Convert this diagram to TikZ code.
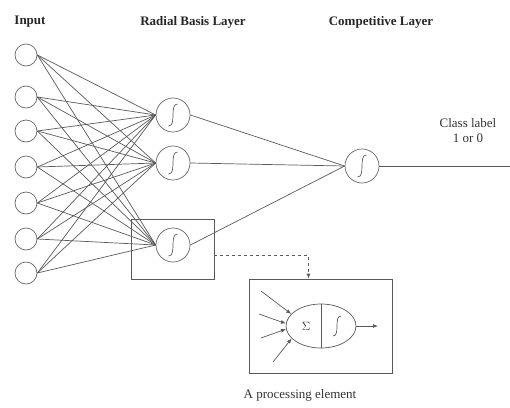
\documentclass[tikz,border=0pt]{standalone}
\usepackage{fontspec}
\setmainfont{Liberation Serif}
\usetikzlibrary{arrows.meta, shapes.geometric, calc}
\tikzset{
  inp/.style={circle, draw=black!60, minimum size=22pt, inner sep=0pt},
  unit/.style={circle, draw=black!60, minimum size=34pt, inner sep=0pt},
  link/.style={draw=black!65, line width=0.7pt},
  head/.style={font=\bfseries\fontsize{13}{15}\selectfont, text=black!85},
  txt/.style={font=\fontsize{13}{15}\selectfont, text=black!80},
}
% little S-shaped transfer curve inside a unit
\newcommand{\sigcurve}[2]{%
  \draw[black!65, line width=0.7pt] ($(#1)+(-#2*0.4,#2)$) .. controls ($(#1)+(#2*0.35,#2)$) and ($(#1)+(-#2*0.35,-#2)$) .. ($(#1)+(#2*0.4,-#2)$);}
\begin{document}
\begin{tikzpicture}[x=1pt, y=-1pt, line width=0.7pt]
  \useasboundingbox (0,0) rectangle (510,407);
  \node[head] at (30,22) {Input};
  \node[head] at (193,22) {Radial Basis Layer};
  \node[head] at (381,22) {Competitive Layer};
  % input layer
  \foreach \y [count=\i] in {55,97,131,167,203,239,273}
    \node[inp] (in\i) at (26,\y) {};
  % radial basis units
  \foreach \y [count=\j] in {115,163,245} {
    \node[unit] (h\j) at (173,\y) {};
    \sigcurve{h\j}{11}
  }
  \foreach \i in {1,...,7}
    \foreach \j in {1,2,3}
      \draw[link] (in\i.east) -- (h\j.west);
  % competitive unit
  \node[unit] (out) at (362,166) {};
  \sigcurve{out}{11}
  \foreach \j in {1,2,3}
    \draw[link] (h\j.east) -- (out.west);
  \coordinate (cls) at (510,166);
  \draw[link] (out.east) -- (cls);
  \node[txt, align=center] (lab) at (468,131) {Class label\\1 or 0};
  % zoom onto one element
  \node[draw=black!65, minimum width=83pt, minimum height=60pt] (sel) at (172.5,249) {};
  \node[draw=black!65, minimum width=143pt, minimum height=94pt] (pe) at (320.5,326) {};
  \draw[link, dashed, -{Latex[length=5pt,width=4pt]}] ([yshift=-6pt]sel.east) -| ([xshift=-12pt]pe.north);
  \node[ellipse, draw=black!65, minimum width=70pt, minimum height=44pt] (cell) at (321,326) {};
  \draw[link] (cell.north) -- (cell.south);
  \node[txt] (sum) at (306,326) {$\Sigma$};
  \sigcurve{337,326}{10}
  \coordinate (a1) at (261,291);
  \coordinate (a2) at (259,314);
  \coordinate (a3) at (261,338);
  \coordinate (a4) at (273,362);
  \foreach \k/\ang in {1/158,2/176,3/185,4/203}
    \draw[link, -{Latex[length=5pt,width=4pt]}] (a\k) -- (cell.\ang);
  \coordinate (res) at (378,326);
  \draw[link, -{Latex[length=5pt,width=4pt]}] (cell.east) -- (res);
  \node[txt] (cap) at (300,395) {A processing element};
\end{tikzpicture}
\end{document}
